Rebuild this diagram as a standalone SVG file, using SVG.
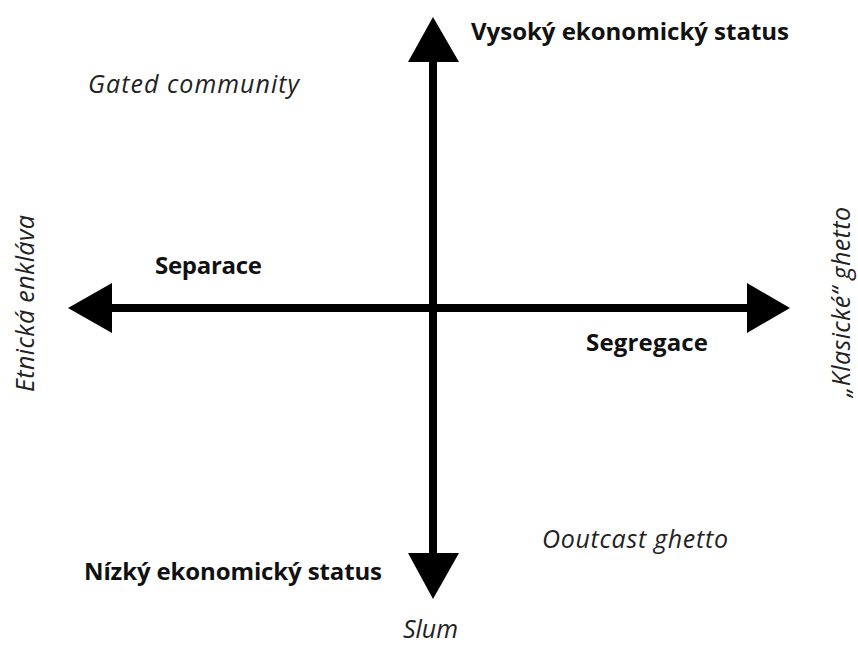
<svg xmlns="http://www.w3.org/2000/svg" width="858" height="652" viewBox="0 0 858 652">
<style>
.ax{stroke:#000;stroke-width:8;fill:none}
.hd{fill:#000;stroke:none}
.b{font-family:"Open Sans","Noto Sans","Liberation Sans",sans-serif;font-weight:bold;font-size:24px;fill:#111}
.i{font-family:"Open Sans","Noto Sans","Liberation Sans",sans-serif;font-style:italic;font-size:25px;fill:#222}
</style>
<rect width="858" height="652" fill="#fff"/>
<g id="connectors">
<line class="ax" x1="433" y1="60" x2="433" y2="555"/>
<line class="ax" x1="110" y1="308" x2="749" y2="308"/>
<polygon class="hd" points="433,17 408,62 459,62"/>
<polygon class="hd" points="433,599 408,553 459,553"/>
<polygon class="hd" points="68,308 112,283 112,333"/>
<polygon class="hd" points="790,308 747,283 747,333"/>
</g>
<g id="high-status"><text class="b" x="471" y="40" textLength="318">Vysoký ekonomický status</text></g>
<g id="low-status"><text class="b" x="84" y="580" textLength="298">Nízký ekonomický status</text></g>
<g id="separace"><text class="b" x="155" y="274" textLength="107">Separace</text></g>
<g id="segregace"><text class="b" x="586" y="351" textLength="122">Segregace</text></g>
<g id="gated"><text class="i" x="88" y="93" textLength="211">Gated community</text></g>
<g id="outcast"><text class="i" x="542" y="548" textLength="186">Ooutcast ghetto</text></g>
<g id="slum"><text class="i" x="403" y="638" textLength="55">Slum</text></g>
<g id="enklava"><text class="i" transform="translate(34,392) rotate(-90)" textLength="177">Etnická enkláva</text></g>
<g id="klasicke"><text class="i" transform="translate(850,397) rotate(-90)" textLength="190">„Klasické“ ghetto</text></g>
</svg>
